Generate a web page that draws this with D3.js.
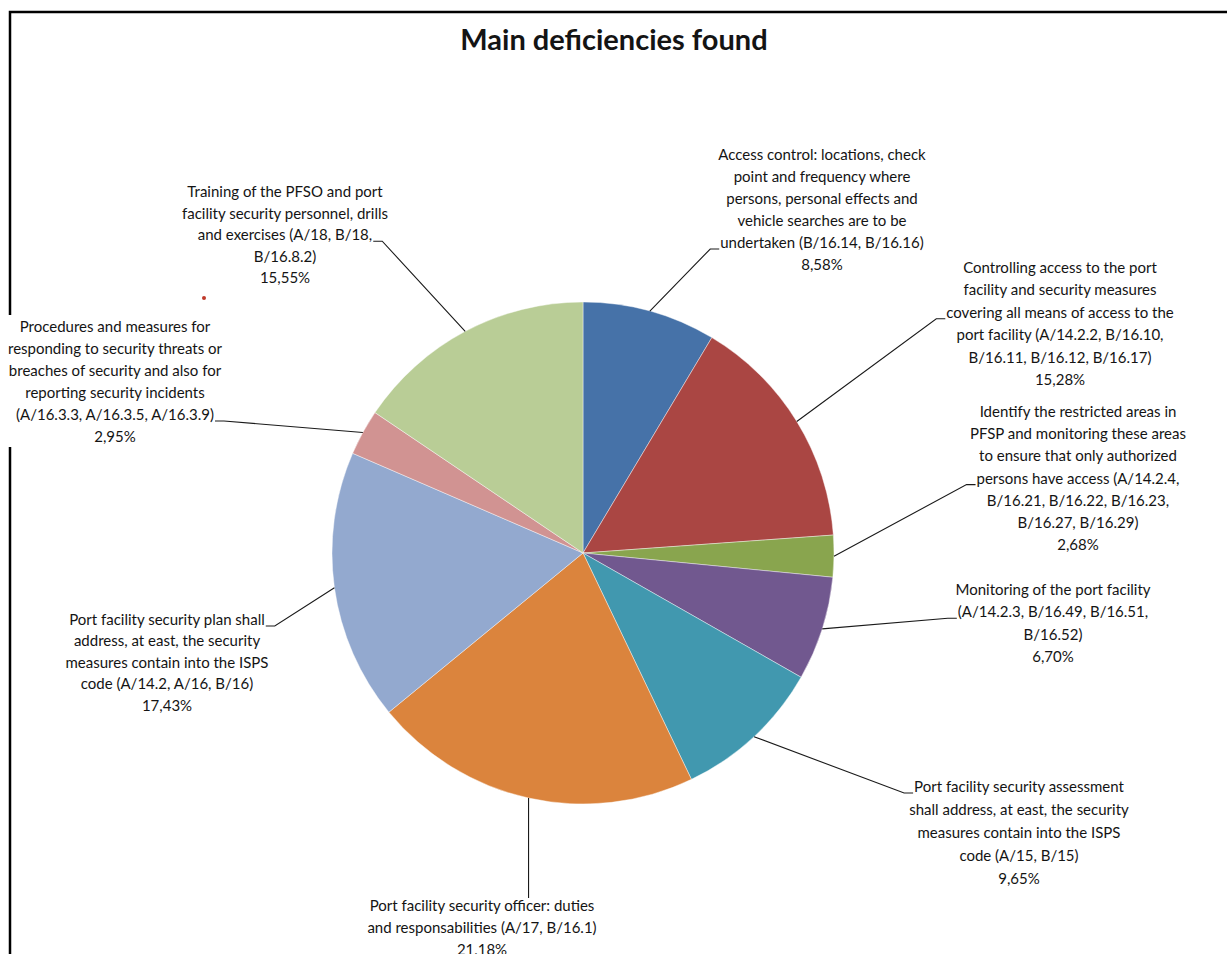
<!DOCTYPE html>
<html>
<head>
<meta charset="utf-8">
<script src="https://cdn.jsdelivr.net/npm/d3@7"></script>
<style>
  body { margin: 0; background: #fff; }
  text { font-family: Lato, "Open Sans", sans-serif; fill: #141414; }
</style>
</head>
<body>
<svg id="chart" width="1227" height="954"></svg>
<script>
// data (clockwise from 12 o'clock)
var categories = [
  "Access control: locations, check\npoint and frequency where\npersons, personal effects and\nvehicle searches are to be\nundertaken (B/16.14, B/16.16)",
  "Controlling access to the port\nfacility and security measures\ncovering all means of access to the\nport facility (A/14.2.2, B/16.10,\nB/16.11, B/16.12, B/16.17)",
  "Identify the restricted areas in\nPFSP and monitoring these areas\nto ensure that only authorized\npersons have access (A/14.2.4,\nB/16.21, B/16.22, B/16.23,\nB/16.27, B/16.29)",
  "Monitoring of the port facility\n(A/14.2.3, B/16.49, B/16.51,\nB/16.52)",
  "Port facility security assessment\nshall address, at east, the security\nmeasures contain into the ISPS\ncode (A/15, B/15)",
  "Port facility security officer: duties\nand responsabilities (A/17, B/16.1)",
  "Port facility security plan shall\naddress, at east, the security\nmeasures contain into the ISPS\ncode (A/14.2, A/16, B/16)",
  "Procedures and measures for\nresponding to security threats or\nbreaches of security and also for\nreporting security incidents\n(A/16.3.3, A/16.3.5, A/16.3.9)",
  "Training of the PFSO and port\nfacility security personnel, drills\nand exercises (A/18, B/18,\nB/16.8.2)"
];
var values = [8.58, 15.28, 2.68, 6.70, 9.65, 21.18, 17.43, 2.95, 15.55];
var colors = ["#4672a8", "#aa4643", "#89a54e", "#71588f", "#4198af",
              "#db843d", "#93a9cf", "#d19392", "#b9cd96"];

// label layout: centre x, first baseline, line step, which line gets the leader, side
var labelPos = [
  {cx: 822,  y: 160, lh: 22,   tick: 4, side: "r"},
  {cx: 1060, y: 273, lh: 22.4, tick: 2, side: "r"},
  {cx: 1078, y: 417, lh: 22.2, tick: 3, side: "r"},
  {cx: 1053, y: 595, lh: 22.3, tick: 1, side: "r"},
  {cx: 1019, y: 792, lh: 23,   tick: 0, side: "r"},
  {cx: 482,  y: 911, lh: 22,   tick: -1, side: "b"},
  {cx: 167,  y: 625, lh: 21.4, tick: 0, side: "l"},
  {cx: 115,  y: 332, lh: 22,   tick: 4, side: "l"},
  {cx: 285,  y: 197, lh: 21.6, tick: 2, side: "l"}
];

var cx = 583, cy = 553, radius = 251;
var loc = d3.formatLocale({decimal: ",", thousands: ".", grouping: [3], currency: ["", "€"]});
var fmt = loc.format(".2f");

var svg = d3.select("#chart");

// frame
svg.append("rect")
  .attr("x", 10).attr("y", 12)
  .attr("width", 1400).attr("height", 1200)
  .attr("fill", "none").attr("stroke", "#000").attr("stroke-width", 2.5);

svg.append("text")
  .attr("x", 614).attr("y", 50)
  .attr("text-anchor", "middle")
  .style("font-size", "29px").style("font-weight", "bold")
  .text("Main deficiencies found");

var pie = d3.pie().sort(null).value(function(d){ return d; });
var arcs = pie(values);
var arc = d3.arc().innerRadius(0).outerRadius(radius);

var g = svg.append("g").attr("transform", "translate(" + cx + "," + cy + ")");
g.selectAll("path")
  .data(arcs)
  .enter().append("path")
  .attr("d", arc)
  .attr("fill", function(d, i){ return colors[i]; })
  .attr("stroke", "#fff").attr("stroke-width", 0.6).attr("stroke-opacity", 0.7);

// labels + leader lines
var bgLayer = svg.append("g");
var leadLayer = svg.append("g");
var txtLayer = svg.append("g");

arcs.forEach(function(a, i){
  var p = labelPos[i];
  var lines = categories[i].split("\n").concat([fmt(values[i]) + "%"]);
  var t = txtLayer.append("text")
    .attr("text-anchor", "middle")
    .style("font-size", "15px");
  var spans = [];
  lines.forEach(function(s, k){
    spans.push(t.append("tspan").attr("x", p.cx).attr("y", p.y + k * p.lh).text(s));
  });

  var bb = t.node().getBBox();
  bgLayer.append("rect")
    .attr("x", bb.x - 2).attr("y", bb.y - 2)
    .attr("width", bb.width + 4).attr("height", bb.height + 4)
    .attr("fill", "#fff");

  var mid = (a.startAngle + a.endAngle) / 2;
  var px = cx + radius * Math.sin(mid), py = cy - radius * Math.cos(mid);
  var pts;
  if (p.side === "b") {
    pts = [[px, py], [px, bb.y + 2]];
  } else {
    var w = spans[p.tick].node().getComputedTextLength();
    var ty = p.y + p.tick * p.lh + 1;
    if (p.side === "r") {
      var x1 = p.cx - w / 2 - 1;
      pts = [[px, py], [x1 - 9, ty], [x1, ty]];
    } else {
      var x0 = p.cx + w / 2 + 1;
      pts = [[px, py], [x0 + 9, ty], [x0, ty]];
    }
  }
  leadLayer.append("path")
    .attr("d", d3.line()(pts))
    .attr("fill", "none").attr("stroke", "#1a1a1a").attr("stroke-width", 1.1);
});

// stray red dot in the original
svg.append("circle").attr("cx", 204).attr("cy", 298).attr("r", 2).attr("fill", "#c0392b");
</script>
</body>
</html>
